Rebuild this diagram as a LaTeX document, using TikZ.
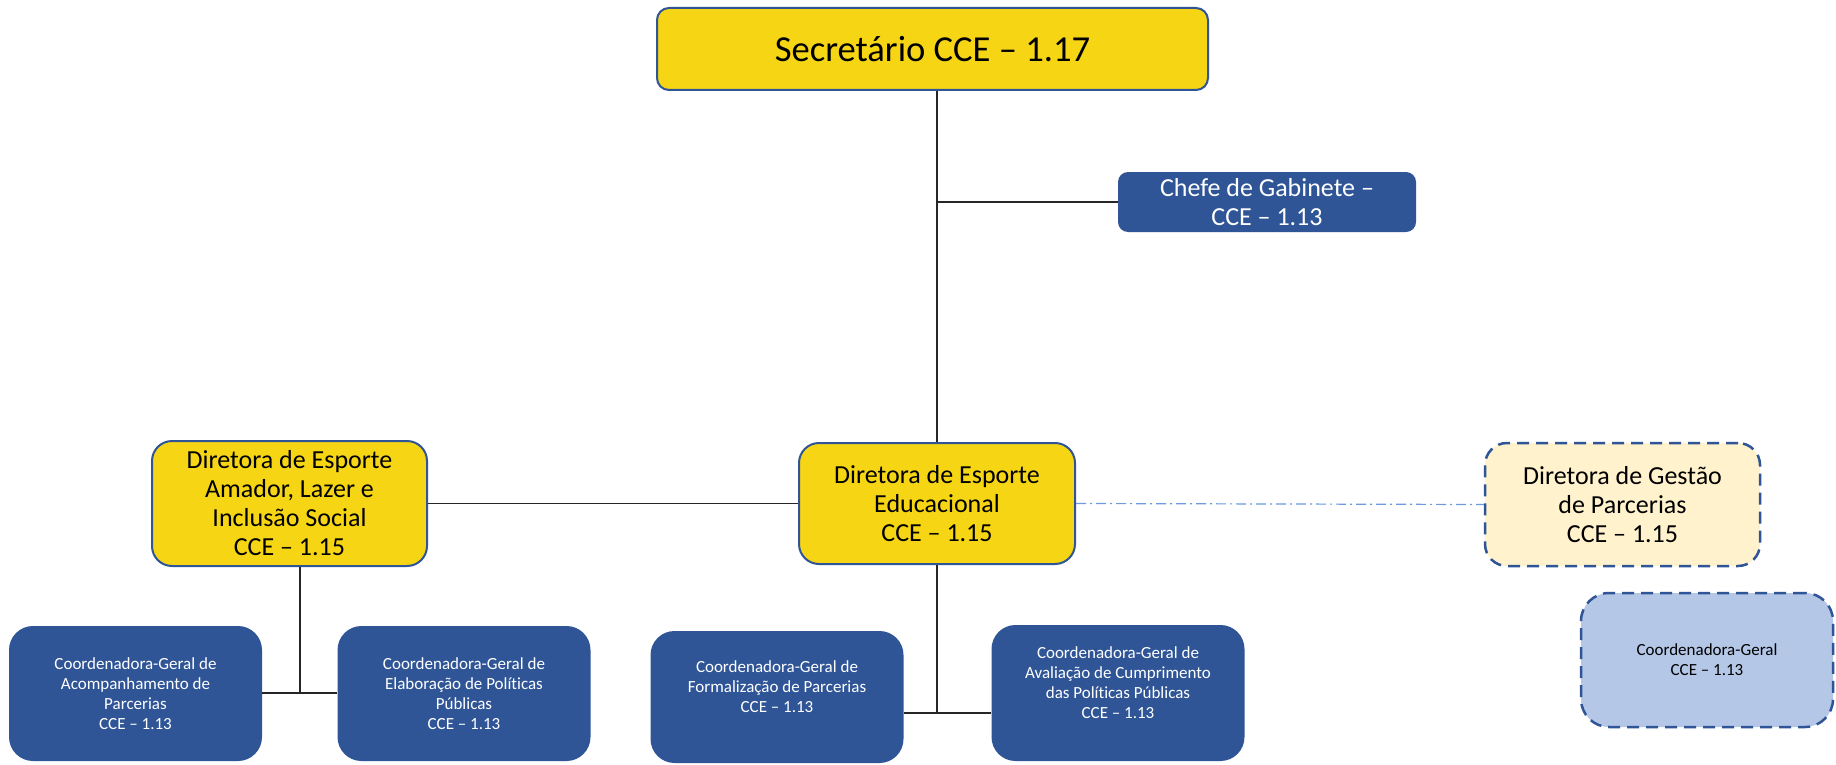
\documentclass[tikz,border=0pt]{standalone}
\usepackage{fontspec}
\setmainfont{Carlito}[Ligatures={TeX,NoCommon}]
\usetikzlibrary{positioning, calc}

\definecolor{cceyellow}{HTML}{F6D614}
\definecolor{cceblue}{HTML}{2F5597}
\definecolor{ccepale}{HTML}{FFF2CC}
\definecolor{ccelight}{HTML}{B4C7E7}
\definecolor{cceline}{HTML}{6E9AE0}

\begin{document}
\begin{tikzpicture}[
      x=0.5pt, y=-0.5pt,
      topbox/.style={fill=cceyellow, draw=cceblue, line width=1pt, rounded corners=6pt, inner sep=0pt, font=\fontsize{18.3}{22}\selectfont},
      dirbox/.style={fill=cceyellow, draw=cceblue, line width=1pt, rounded corners=10pt, inner sep=0pt, align=center, font=\fontsize{13}{14.5}\selectfont},
      chefebox/.style={fill=cceblue, text=white, rounded corners=5pt, inner sep=0pt, align=center, font=\fontsize{13}{14.5}\selectfont},
      coordbox/.style={fill=cceblue, text=white, rounded corners=12pt, inner sep=0pt, align=center, font=\fontsize{8.5}{10}\selectfont, minimum width=126.5pt},
      planbox/.style={draw=cceblue, line width=1.25pt, dash pattern=on 6pt off 3.5pt, inner sep=0pt, align=center},
      link/.style={draw=black!85, line width=0.6pt}
    ]
      % Canvas
      \fill[white] (0,0) rectangle (1836,765);
      \useasboundingbox (0,0) rectangle (1836,765);

      % Top level
      \node[topbox, minimum width=275.5pt, minimum height=41pt] (sec) at (932.5,49) {Secretário CCE – 1.17};
      \node[chefebox, minimum width=149pt, minimum height=30pt] (chefe) at (1267,202) {Chefe de Gabinete –\\CCE – 1.13};

      % Diretorias
      \node[dirbox, minimum width=138pt, minimum height=60.5pt] (dirEdu) at (937,503.5) {Diretora de Esporte\\Educacional\\CCE – 1.15};
      \node[dirbox, minimum width=137.5pt, minimum height=62.5pt] (dirAma) at (289.5,503.5) {Diretora de Esporte\\Amador, Lazer e\\Inclusão Social\\CCE – 1.15};
      \node[planbox, fill=ccepale, rounded corners=11pt, minimum width=137.5pt, minimum height=61.5pt, font=\fontsize{13}{14.5}\selectfont] (dirGes) at (1622.5,504.5) {Diretora de Gestão\\de Parcerias\\CCE – 1.15};

      % Coordenações
      \node[coordbox, minimum height=67.5pt] (cAco) at (135.5,693.5) {Coordenadora-Geral de\\Acompanhamento de\\Parcerias\\CCE – 1.13};
      \node[coordbox, minimum height=67.5pt] (cEla) at (464,693.5) {Coordenadora-Geral de\\Elaboração de Políticas\\Públicas\\CCE – 1.13};
      \node[coordbox, minimum height=66pt] (cFor) at (777,697) {Coordenadora-Geral de\\Formalização de Parcerias\\CCE – 1.13\\};
      \node[coordbox, minimum height=68pt] (cAva) at (1118,693) {Coordenadora-Geral de\\Avaliação de Cumprimento\\das Políticas Públicas\\CCE – 1.13\\};
      \node[planbox, fill=ccelight, rounded corners=14pt, minimum width=126pt, minimum height=67pt, font=\fontsize{8.5}{10}\selectfont] (coordG) at (1707,660) {Coordenadora-Geral\\CCE – 1.13};

      % Junctions
      \coordinate (amaJ) at (300,693);
      \coordinate (eduJ) at (937,713);

      % Links
      \draw[link] (dirEdu.north |- sec.south) -- (dirEdu.north);
      \draw[link] (chefe.west -| dirEdu.north) -- (chefe.west);
      \draw[link] (dirAma.east) -- (dirEdu.west);
      \draw[cceline, line width=0.6pt, dash pattern=on 5pt off 2pt on 1pt off 2pt] (dirEdu.east) -- (dirGes.west);
      \draw[link] (amaJ |- dirAma.south) -- (amaJ);
      \draw[link] (cAco.east |- amaJ) -- (cEla.west |- amaJ);
      \draw[link] (dirEdu.south) -- (eduJ);
      \draw[link] (cFor.east |- eduJ) -- (cAva.west |- eduJ);
    \end{tikzpicture}
\end{document}
